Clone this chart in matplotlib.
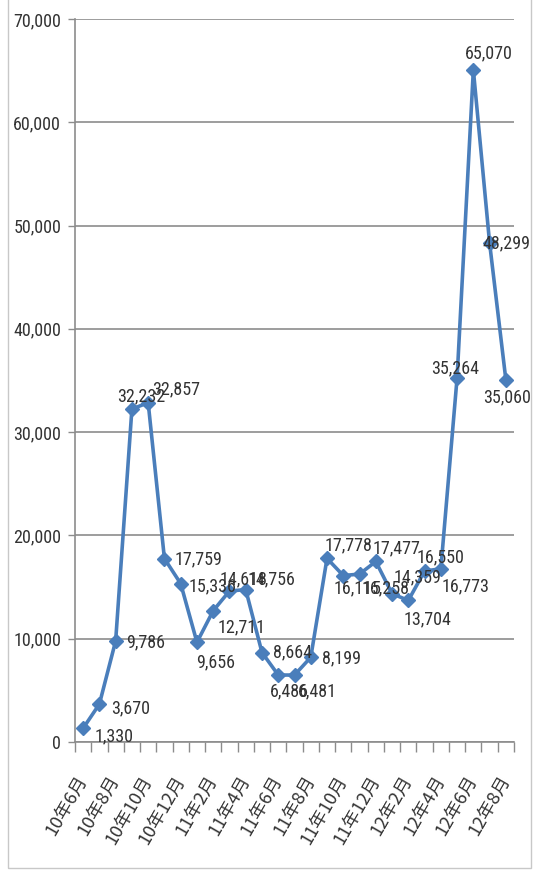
import matplotlib
matplotlib.use("Agg")
import matplotlib.pyplot as plt
from matplotlib import font_manager
from matplotlib.patches import Rectangle
from matplotlib.ticker import FuncFormatter, FixedLocator

# monthly values, 10年6月 .. 12年8月
months = ["10年6月", "10年7月", "10年8月", "10年9月", "10年10月", "10年11月", "10年12月",
          "11年1月", "11年2月", "11年3月", "11年4月", "11年5月", "11年6月", "11年7月",
          "11年8月", "11年9月", "11年10月", "11年11月", "11年12月", "12年1月", "12年2月",
          "12年3月", "12年4月", "12年5月", "12年6月", "12年7月", "12年8月"]
values = [1330, 3670, 9786, 32232, 32857, 17759, 15336, 9656, 12711, 14618, 14756,
          8664, 6486, 6481, 8199, 17778, 16115, 16258, 17477, 14359, 13704, 16550,
          16773, 35264, 65070, 48299, 35060]
y_ticks = [0, 10000, 20000, 30000, 40000, 50000, 60000, 70000]

# label offsets in pixels (dx right, dy down)
label_offsets = [(31, 8), (31, 4), (30, 1), (9, -13), (28, -13), (34, 1), (32, 3),
                 (19, 20), (28, 17), (14, -12), (26, -10), (31, 0), (11, 16), (23, 16),
                 (31, 1), (21, -13), (14, 13), (26, 14), (21, -13), (25, -16), (19, 19),
                 (16, -14), (25, 18), (-2, -9), (15, -17), (17, 0), (1, 17)]

W, H, DPI = 537, 872, 100
LINE = "#4A7EBB"
GRID = "#8C8C8C"
TXT = "#333333"

# pick a narrow face if one is around, otherwise plain Liberation Sans
installed = {f.name for f in font_manager.fontManager.ttflist}
num_font, num_size = ["Liberation Sans", "DejaVu Sans"], 11
for name in ["Liberation Sans Narrow", "DejaVu Sans Condensed", "Roboto Condensed",
             "Open Sans Condensed"]:
    if name in installed:
        num_font, num_size = [name, "DejaVu Sans"], 13
        break
jp_font = ["Noto Sans CJK JP", "DejaVu Sans"]

fig = plt.figure(figsize=(W / DPI, H / DPI), dpi=DPI)
ax = fig.add_axes([75 / W, 1 - 742 / H, 439 / W, 723 / H])

# chart area border
fig.patches.append(Rectangle((8 / W, 1 - 868 / H), 523 / W, 0.2 + 868 / H,
                             transform=fig.transFigure, fill=False,
                             edgecolor="#C8C8C8", linewidth=1.0))

x = list(range(len(values)))
ax.plot(x, values, color=LINE, linewidth=2.6, marker="D", markersize=7.5,
        markerfacecolor=LINE, markeredgecolor=LINE, zorder=3)

for xi, v, (dx, dy) in zip(x, values, label_offsets):
    ax.annotate(f"{v:,}", (xi, v), xytext=(dx * 72 / DPI, -dy * 72 / DPI),
                textcoords="offset points", ha="center", va="center",
                fontsize=num_size, family=num_font, color=TXT, zorder=4)

ax.set_xlim(-0.5, len(values) - 0.5)
ax.set_ylim(0, 70000)

ax.set_yticks(y_ticks)
ax.yaxis.set_major_formatter(FuncFormatter(lambda v, p: f"{int(v):,}"))
ax.yaxis.grid(True, color=GRID, linewidth=1.2)
ax.set_axisbelow(True)
ax.tick_params(axis="y", length=5, width=1.0, color=GRID, pad=5,
               labelsize=num_size, labelcolor=TXT)
for lab in ax.get_yticklabels():
    lab.set_family(num_font)

# x: labels every other month, tick marks between categories
ax.set_xticks(x[::2])
ax.set_xticklabels(months[::2], rotation=60, ha="right", va="center",
                   rotation_mode="anchor", family=jp_font, fontsize=13, color=TXT)
ax.xaxis.set_minor_locator(FixedLocator([i - 0.5 for i in range(len(values) + 1)]))
ax.tick_params(axis="x", which="major", length=0, pad=25)
ax.tick_params(axis="x", which="minor", length=7, width=1.0, color=GRID)

for side in ["top", "right"]:
    ax.spines[side].set_visible(False)
for side in ["left", "bottom"]:
    ax.spines[side].set_color(GRID)
    ax.spines[side].set_linewidth(1.2)

fig.savefig("out.png", dpi=DPI)
